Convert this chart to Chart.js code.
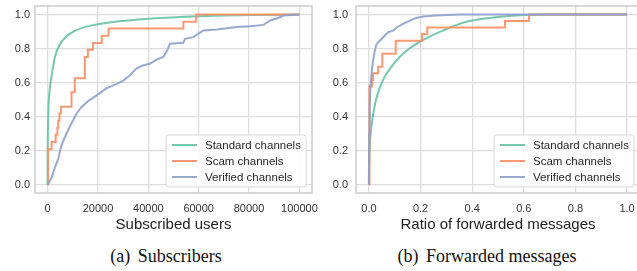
<!DOCTYPE html>
<html><head><meta charset="utf-8">
<script src="https://cdn.jsdelivr.net/npm/chart.js@4.4.1/dist/chart.umd.min.js"></script>
<style>
html,body{margin:0;padding:0;background:#fff;overflow:hidden;width:637px;height:271px;position:relative;}
#c1{position:absolute;left:0;top:0;}
#c2{position:absolute;left:318px;top:0;}
.cap{position:absolute;top:246px;width:300px;text-align:center;font-family:"Liberation Serif","Times New Roman",serif;font-size:18px;line-height:20px;color:#111;white-space:nowrap;}
</style></head><body>
<canvas id="c1" width="318" height="240"></canvas>
<canvas id="c2" width="325" height="240"></canvas>
<div class="cap" style="left:16px"><span style="margin-right:3px">(a)</span> Subscribers</div>
<div class="cap" style="left:337px"><span style="margin-right:3px">(b)</span> Forwarded messages</div>
<script>
// ---- data ----
const seriesNames = ["Standard channels", "Scam channels", "Verified channels"];
const cdfTicks = [0, 0.2, 0.4, 0.6, 0.8, 1.0];
const cdfTickLabels = ["0.0", "0.2", "0.4", "0.6", "0.8", "1.0"];
const subsTicks = [0, 20000, 40000, 60000, 80000, 100000];
const subsTickLabels = ["0", "20000", "40000", "60000", "80000", "100000"];
const ratioTicks = [0, 0.2, 0.4, 0.6, 0.8, 1.0];
const ratioTickLabels = ["0.0", "0.2", "0.4", "0.6", "0.8", "1.0"];

// (a) Subscribers
const subsStandardX = [0, 50, 150, 300, 600, 1000, 1600, 2900, 4900, 7500, 11000, 15000, 20000, 30000, 40000, 60000, 80000, 100000];
const subsStandardY = [0, 0.2, 0.33, 0.43, 0.52, 0.58, 0.64, 0.75, 0.825, 0.872, 0.905, 0.927, 0.943, 0.962, 0.975, 0.99, 0.997, 1.0];
const subsScamX = [0, 150, 1600, 3200, 3900, 4200, 4700, 5300, 9500, 10800, 14800, 16000, 18000, 21500, 24200, 53900, 59000, 100000];
const subsScamY = [0, 0.208, 0.25, 0.292, 0.333, 0.375, 0.417, 0.458, 0.542, 0.625, 0.75, 0.792, 0.833, 0.875, 0.917, 0.958, 1.0, 1.0];
const subsVerifiedX = [0, 300, 1600, 2900, 4200, 5500, 7500, 9500, 11400, 13400, 16000, 18000, 20000, 23300, 27200, 29900, 32500, 35100, 37800, 40500, 44000, 46000, 47500, 48600, 53900, 54600, 57900, 59900, 61900, 67200, 75100, 80400, 85700, 88400, 92300, 93600, 100000];
const subsVerifiedY = [0, 0.005, 0.04, 0.1, 0.15, 0.23, 0.3, 0.36, 0.415, 0.455, 0.49, 0.51, 0.53, 0.565, 0.59, 0.61, 0.64, 0.68, 0.7, 0.71, 0.74, 0.75, 0.79, 0.828, 0.834, 0.857, 0.867, 0.887, 0.906, 0.912, 0.926, 0.931, 0.939, 0.965, 0.984, 0.994, 1.0];

// (b) Forwarded messages
const fwdStandardX = [0, 0.001, 0.003, 0.005, 0.009, 0.016, 0.028, 0.041, 0.061, 0.086, 0.119, 0.157, 0.2, 0.235, 0.286, 0.351, 0.4, 0.45, 0.5, 0.6, 0.7, 1.0];
const fwdStandardY = [0, 0.1, 0.21, 0.27, 0.33, 0.41, 0.5, 0.565, 0.634, 0.69, 0.75, 0.8, 0.842, 0.87, 0.905, 0.945, 0.965, 0.977, 0.986, 0.997, 1.0, 1.0];
const fwdScamX = [0, 0.002, 0.012, 0.016, 0.036, 0.052, 0.104, 0.206, 0.226, 0.527, 0.62, 1.0];
const fwdScamY = [0, 0.577, 0.615, 0.654, 0.692, 0.769, 0.846, 0.885, 0.923, 0.962, 1.0, 1.0];
const fwdVerifiedX = [0, 0.001, 0.003, 0.006, 0.01, 0.015, 0.022, 0.028, 0.035, 0.045, 0.061, 0.074, 0.093, 0.112, 0.132, 0.157, 0.183, 0.21, 0.26, 0.35, 1.0];
const fwdVerifiedY = [0, 0.3, 0.45, 0.58, 0.65, 0.72, 0.78, 0.82, 0.835, 0.85, 0.875, 0.895, 0.905, 0.928, 0.945, 0.962, 0.98, 0.988, 0.994, 1.0, 1.0];

// ---- styling ----
const colors = ["rgba(102,194,165,0.9)", "rgba(252,141,98,0.9)", "rgba(141,160,203,0.9)"];
const SANS = '"Liberation Sans", Arial, sans-serif';

const framePlugin = {
  id: 'frame',
  beforeDatasetsDraw(chart) {
    const {ctx, chartArea: a} = chart;
    ctx.save();
    ctx.strokeStyle = '#cccccc';
    ctx.lineWidth = 1.5;
    ctx.strokeRect(a.left, a.top, a.right - a.left, a.bottom - a.top);
    ctx.restore();
  }
};

const legendPlugin = {
  id: 'boxLegend',
  afterDraw(chart) {
    const {ctx, chartArea: a} = chart;
    const w = 140, h = 52;
    const x = a.right - 6 - w, y = a.bottom - 6 - h;
    ctx.save();
    ctx.beginPath();
    const r = 3;
    ctx.moveTo(x + r, y); ctx.lineTo(x + w - r, y); ctx.arcTo(x + w, y, x + w, y + r, r);
    ctx.lineTo(x + w, y + h - r); ctx.arcTo(x + w, y + h, x + w - r, y + h, r);
    ctx.lineTo(x + r, y + h); ctx.arcTo(x, y + h, x, y + h - r, r);
    ctx.lineTo(x, y + r); ctx.arcTo(x, y, x + r, y, r); ctx.closePath();
    ctx.fillStyle = 'rgba(255,255,255,0.85)';
    ctx.fill();
    ctx.strokeStyle = '#d8d8d8';
    ctx.lineWidth = 1;
    ctx.stroke();
    ctx.font = '11.5px ' + SANS;
    ctx.textBaseline = 'middle';
    chart.data.datasets.forEach((ds, i) => {
      const cy = y + 10 + i * 16;
      ctx.strokeStyle = ds.borderColor;
      ctx.lineWidth = 2;
      ctx.beginPath(); ctx.moveTo(x + 6, cy); ctx.lineTo(x + 31, cy); ctx.stroke();
      ctx.fillStyle = '#262626';
      ctx.fillText(ds.label, x + 39, cy + 0.5);
    });
    ctx.restore();
  }
};

function zeroPad(s) { s.paddingLeft = 0; s.paddingRight = 0; s.paddingTop = 0; s.paddingBottom = 0; }

function makeChart(id, cfg) {
  const series = [
    {xs: cfg.std[0], ys: cfg.std[1], stepped: false, smooth: true},
    {xs: cfg.scam[0], ys: cfg.scam[1], stepped: 'before'},
    {xs: cfg.ver[0], ys: cfg.ver[1], stepped: false}
  ];
  return new Chart(document.getElementById(id), {
    type: 'line',
    data: {
      datasets: series.map((s, i) => ({
        label: seriesNames[i],
        data: s.xs.map((x, j) => ({x: x, y: s.ys[j]})),
        borderColor: colors[i],
        borderWidth: 2,
        pointRadius: 0,
        fill: false,
        stepped: s.stepped,
        cubicInterpolationMode: s.smooth ? 'monotone' : 'default',
        tension: 0,
        order: 3 - i
      }))
    },
    options: {
      responsive: false, animation: false, devicePixelRatio: 1,
      layout: {padding: {top: 6, right: cfg.padRight, left: 0, bottom: 0}},
      plugins: {legend: {display: false}, tooltip: {enabled: false}},
      scales: {
        x: {
          type: 'linear', min: cfg.xMin, max: cfg.xMax,
          afterBuildTicks: s => { s.ticks = cfg.xTicks.map(v => ({value: v})); },
          afterFit: s => { s.height = 47; zeroPad(s); },
          grid: {color: '#dddddd', lineWidth: 1.3, drawTicks: false},
          border: {display: false},
          ticks: {autoSkip: false, maxRotation: 0, minRotation: 0, padding: 9, color: '#333333',
                  font: {family: SANS, size: 11}, callback: (v, i) => cfg.xLabels[i]},
          title: {display: true, text: cfg.xTitle, color: '#222222',
                  font: {family: SANS, size: 15}, padding: {top: 0, bottom: 6}}
        },
        y: {
          type: 'linear', min: -0.05, max: 1.05,
          afterBuildTicks: s => { s.ticks = cdfTicks.map(v => ({value: v})); },
          afterFit: s => { s.width = cfg.yWidth; zeroPad(s); },
          grid: {color: '#dddddd', lineWidth: 1.3, drawTicks: false},
          border: {display: false},
          ticks: {autoSkip: false, padding: cfg.yPad, color: '#333333',
                  font: {family: SANS, size: 11}, callback: (v, i) => cdfTickLabels[i]}
        }
      }
    },
    plugins: [framePlugin, legendPlugin]
  });
}

makeChart('c1', {
  std: [subsStandardX, subsStandardY], scam: [subsScamX, subsScamY], ver: [subsVerifiedX, subsVerifiedY],
  xMin: -5000, xMax: 105000, xTicks: subsTicks, xLabels: subsTickLabels, xTitle: 'Subscribed users',
  yWidth: 35, yPad: 5, padRight: 6
});
makeChart('c2', {
  std: [fwdStandardX, fwdStandardY], scam: [fwdScamX, fwdScamY], ver: [fwdVerifiedX, fwdVerifiedY],
  xMin: -0.05, xMax: 1.05, xTicks: ratioTicks, xLabels: ratioTickLabels, xTitle: 'Ratio of forwarded messages',
  yWidth: 38, yPad: 8, padRight: 3
});
</script>
</body></html>
